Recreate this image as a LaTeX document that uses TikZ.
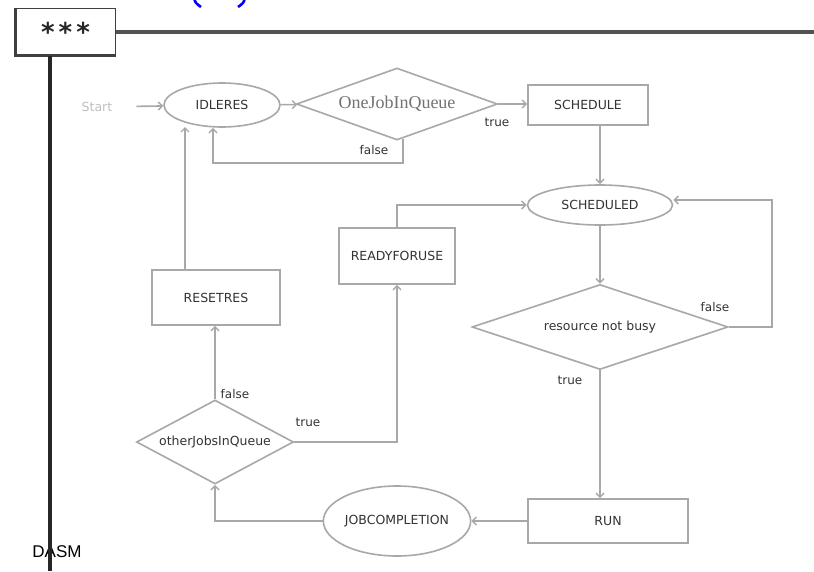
\documentclass[tikz,border=0pt]{standalone}
\usepackage{fontspec}
\setmainfont{DejaVu Sans}
\newfontfamily\serifJ{Liberation Serif}
\newfontfamily\arialF{Liberation Sans}
\usetikzlibrary{arrows.meta,shapes.geometric,calc}
\definecolor{ln}{HTML}{A8A8A8}
\definecolor{tx}{HTML}{333333}
\definecolor{hd}{HTML}{404040}
\tikzset{
  arr/.style={draw=ln, line width=1.6pt, -{Straight Barb[length=4pt,width=8pt,line width=1.4pt]}},
  stbox/.style={draw=ln, line width=1.6pt, rectangle, inner sep=0pt, text=tx, font=\fontsize{12.5}{14}\selectfont},
  stell/.style={draw=ln, line width=1.6pt, ellipse, inner sep=0pt, text=tx, font=\fontsize{12.5}{14}\selectfont},
  stdia/.style={draw=ln, line width=1.6pt, diamond, inner sep=0pt, text=tx, font=\fontsize{12.5}{14}\selectfont},
  lbl/.style={text=tx, font=\fontsize{12}{14}\selectfont, inner sep=0pt},
}
\begin{document}
\begin{tikzpicture}[x=1pt,y=-1pt]
\useasboundingbox (0,0) rectangle (814,571);
\fill[white] (0,0) rectangle (814,571);
% blue parentheses cut at top
\draw[blue, line width=2.6pt] (194,-2) .. controls (195.5,3) .. (201,7);
\draw[blue, line width=2.6pt] (245,-2) .. controls (243.5,3) .. (238,7);
% header
\node[draw=hd, line width=1pt, minimum width=99pt, minimum height=47pt, inner sep=0pt, font=\bfseries\fontsize{26}{28}\selectfont, text=black!85] (hdr) at (65.5,31.5) {\raisebox{-7pt}{*\kern4pt*\kern4pt*}};
\draw[hd, line width=2.5pt] (hdr.north west) -- (hdr.south west) -- (hdr.south east);
\coordinate (hr) at (814,32);
\draw[hd!90, line width=4pt] (hdr.east |- hr) -- (hr);
\node[font=\arialF\fontsize{17}{20}\selectfont, text=black, inner sep=0pt] (dasm) at (57,552) {DASM};
\coordinate (vb) at (50,571);
\draw[black!85, line width=3.2pt] (hdr.south -| vb) -- (vb);

% nodes
\node[font=\fontsize{12.5}{14}\selectfont, text=black!25, inner sep=0pt] (start) at (97,107) {Start};
\node[stell, minimum width=116pt, minimum height=44pt] (idle) at (222,105) {IDLERES};
\node[stdia, aspect=2.8, minimum width=201pt, minimum height=72pt, font=\serifJ\fontsize{18}{20}\selectfont, text=black!55] (d1) at (397,104) {OneJobInQueue};
\node[stbox, minimum width=120pt, minimum height=40pt] (schedule) at (588,105) {SCHEDULE};
\node[stell, minimum width=145pt, minimum height=40pt] (scheduled) at (600,205) {SCHEDULED};
\node[stdia, aspect=3.0, minimum width=256pt, minimum height=85pt] (d2) at (600,327) {resource not busy};
\node[stbox, minimum width=160pt, minimum height=44pt] (run) at (608,521) {RUN};
\node[stell, minimum width=146pt, minimum height=70pt] (jobc) at (397,521) {JOBCOMPLETION};
\node[stdia, aspect=1.87, minimum width=157pt, minimum height=84pt] (d3) at (215,442) {otherJobsInQueue};
\node[stbox, minimum width=128pt, minimum height=55pt] (reset) at (216,297.5) {RESETRES};
\node[stbox, minimum width=116pt, minimum height=56pt] (ready) at (397,256) {READYFORUSE};

% labels
\node[lbl] (t1) at (497,122) {true};
\node[lbl] (f1) at (374,150) {false};
\node[lbl] (f2) at (715,307) {false};
\node[lbl] (t2) at (570,380) {true};
\node[lbl] (t3) at (308,422) {true};
\node[lbl] (f3) at (235,394) {false};

% connectors
\draw[arr, shorten <=24pt] (start) -- (idle);
\draw[arr] (idle) -- (d1);
\draw[arr] (d1.east) -- (d1.east -| schedule.west);
\coordinate (fc) at (213,163);
\draw[arr] ($(d1.south)+(6,-2)$) |- (fc) -- (fc |- idle.south);
\coordinate (rc) at (185,127);
\draw[arr] (reset.north -| rc) -- (rc);
\draw[arr] (schedule.south -| scheduled.north) -- (scheduled.north);
\draw[arr] (scheduled.south) -- (d2.north);
\coordinate (fr) at (772,200);
\draw[arr] (d2.east) -| (fr) -- (fr -| scheduled.east);
\draw[arr] (d2.south) -- (d2.south |- run.north);
\draw[arr] (run.west) -- (jobc.east);
\draw[arr] (jobc.west) -| (d3.south);
\draw[arr] (d3.east) -| (ready.south);
\draw[arr] (d3.north) -- (d3.north |- reset.south);
\draw[arr] (ready.north) |- (scheduled.west);
\end{tikzpicture}
\end{document}
